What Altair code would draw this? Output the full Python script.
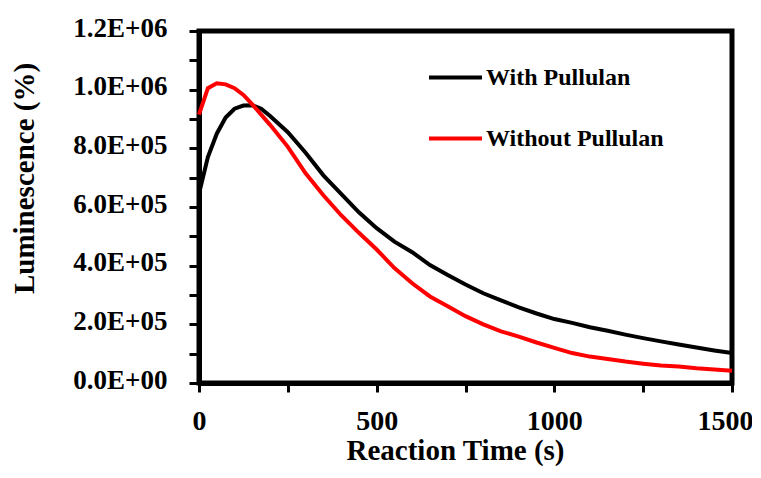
import altair as alt
import pandas as pd

times = [0, 25, 50, 75, 100, 125, 150, 175, 200, 250, 300, 350, 400, 450, 500,
         550, 600, 650, 700, 750, 800, 850, 900, 950, 1000, 1050, 1100, 1150,
         1200, 1250, 1300, 1350, 1400, 1450, 1500]

with_pullulan = [645e3, 770e3, 850e3, 905e3, 935e3, 946e3, 947e3, 935e3, 910e3,
                 855e3, 785e3, 708e3, 645e3, 582e3, 528e3, 482e3, 446e3, 402e3,
                 368e3, 336e3, 306e3, 282e3, 258e3, 237e3, 218e3, 205e3, 190e3,
                 178e3, 165e3, 153e3, 142e3, 131e3, 121e3, 111e3, 102e3]

without_pullulan = [915e3, 1005e3, 1022e3, 1018e3, 1005e3, 982e3, 950e3, 915e3,
                    880e3, 805e3, 715e3, 640e3, 572e3, 512e3, 455e3, 392e3,
                    340e3, 295e3, 262e3, 228e3, 200e3, 176e3, 158e3, 138e3,
                    120e3, 102e3, 90e3, 82e3, 73e3, 66e3, 60e3, 56e3, 50e3,
                    46e3, 42e3]

series_names = ["With Pullulan", "Without Pullulan"]
series_colors = ["#000000", "#ff0000"]

x_ticks = [0, 250, 500, 750, 1000, 1250, 1500]
y_ticks = [i * 1e5 for i in range(13)]

rows = []
for t, a, b in zip(times, with_pullulan, without_pullulan):
    rows.append({"t": t, "v": a, "s": series_names[0]})
    rows.append({"t": t, "v": b, "s": series_names[1]})
df = pd.DataFrame(rows)

font = "Liberation Serif"

y_label = ("round(datum.value/1e5) % 2 == 1 ? '' : "
           "(datum.value == 0 ? '0.0E+00' : (datum.value >= 1e6 ? "
           "format(datum.value/1e6, '.1f') + 'E+06' : "
           "format(datum.value/1e5, '.1f') + 'E+05'))")
x_label = "datum.value % 500 == 0 ? format(datum.value, 'd') : ''"

chart = alt.Chart(df).mark_line(strokeWidth=4).encode(
    x=alt.X("t:Q", scale=alt.Scale(domain=[0, 1500], nice=False),
            axis=alt.Axis(title="Reaction Time (s)", values=x_ticks,
                          labelExpr=x_label, grid=False, tickSize=9,
                          labelPadding=15, labelFontSize=28, labelFlush=False,
                          labelOffset={"condition": {"test": "datum.value == 1500",
                                                     "value": -7},
                                       "value": 0},
                          titleX=256, titleY=76, titleBaseline="alphabetic")),
    y=alt.Y("v:Q", scale=alt.Scale(domain=[0, 1.2e6], nice=False),
            axis=alt.Axis(title="Luminescence (%)", values=y_ticks,
                          labelExpr=y_label, grid=False, tickSize=10,
                          labelPadding=22, labelFontSize=27, labelOffset=-3,
                          titleX=-166, titleY=147, titleBaseline="alphabetic")),
    color=alt.Color("s:N", scale=alt.Scale(domain=series_names, range=series_colors),
                    legend=alt.Legend(title=None, orient="none", legendX=228,
                                      legendY=18, symbolType="stroke",
                                      symbolSize=2809, symbolStrokeWidth=4,
                                      labelFont=font, labelFontSize=24,
                                      labelFontWeight="bold", labelColor="#000",
                                      labelOffset=2, rowPadding=20,
                                      labelLimit=400)),
).properties(
    width=533, height=352,
    autosize=alt.AutoSizeParams(type="none"),
    padding={"left": 191, "top": 23, "right": 20, "bottom": 83},
).configure_view(
    stroke="#000", strokeWidth=5
).configure_axis(
    labelFont=font, labelFontWeight="bold", labelColor="#000",
    titleFont=font, titleFontSize=29, titleFontWeight="bold", titleColor="#000",
    domainColor="#000", domainWidth=5, tickColor="#000", tickWidth=3,
)

chart.save("out.html", embed_options={"renderer": "svg", "actions": False})
